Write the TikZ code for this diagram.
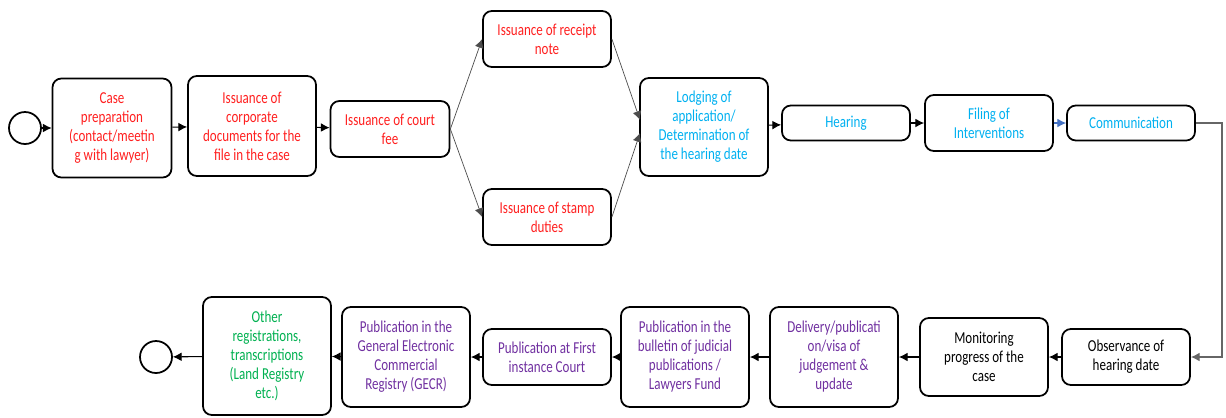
\documentclass[tikz,border=0pt]{standalone}
\usepackage{fontspec}
\setmainfont{Carlito}[FakeStretch=0.78]
\usetikzlibrary{arrows.meta}
\definecolor{txtred}{HTML}{FF1F1F}
\definecolor{txtblue}{HTML}{00B0F0}
\definecolor{txtpurple}{HTML}{7030A0}
\definecolor{txtgreen}{HTML}{00B050}
\definecolor{linkblue}{HTML}{4472C4}
\begin{document}
\begin{tikzpicture}[
    x=0.02cm, y=-0.02cm,
    >={Latex[length=5pt,width=5pt]},
    box/.style={draw, rectangle, rounded corners=5pt, line width=1pt, align=center, inner sep=1pt, minimum width=2.56cm, font=\fontsize{9.5}{10.8}\selectfont},
    event/.style={draw, circle, line width=1pt, minimum size=0.64cm, inner sep=0pt},
    flow/.style={->, line width=0.6pt},
    branch/.style={->, line width=0.4pt, color=black!70}
]
  \useasboundingbox (0,0) rectangle (1226,417);

  % Inicio
  \node[event] (start) at (25,128) {};

  % Fila superior
  \node[box, text=txtred, minimum width=2.38cm, minimum height=1.98cm] (prep) at (112,128) {Case\\preparation\\(contact/meetin\\g with lawyer)};
  \node[box, text=txtred, minimum height=2.0cm] (corp) at (252,126) {Issuance of\\corporate\\documents for the\\file in the case};
  \node[box, text=txtred, minimum width=2.38cm, minimum height=1.12cm] (fee) at (390,129) {Issuance of court\\fee};
  \node[box, text=txtred, minimum height=1.12cm] (receipt) at (547,39) {Issuance of receipt\\note};
  \node[box, text=txtred, minimum height=1.12cm] (stamp) at (547,217) {Issuance of stamp\\duties};
  \node[box, text=txtblue, minimum height=1.96cm] (lodge) at (704,127) {Lodging of\\application/\\Determination of\\the hearing date};
  \node[box, text=txtblue, minimum height=0.7cm] (hearing) at (846,123) {Hearing};
  \node[box, text=txtblue, minimum height=1.12cm] (filing) at (989,123) {Filing of\\Interventions};
  \node[box, text=txtblue, minimum height=0.7cm] (comm) at (1131,123) {Communication};

  % Fila inferior
  \node[box, minimum height=1.12cm] (observe) at (1126,357) {Observance of\\hearing date};
  \node[box, minimum height=1.56cm] (monitor) at (984,357) {Monitoring\\progress of the\\case};
  \node[box, text=txtpurple, minimum height=2.0cm] (deliver) at (834,357) {Delivery/publicati\\on/visa of\\judgement \&\\update};
  \node[box, text=txtpurple, minimum height=2.0cm] (bulletin) at (685,357) {Publication in the\\bulletin of judicial\\publications /\\Lawyers Fund};
  \node[box, text=txtpurple, minimum height=1.12cm] (court) at (547,357) {Publication at First\\instance Court};
  \node[box, text=txtpurple, minimum height=2.0cm] (gecr) at (406,357) {Publication in the\\General Electronic\\Commercial\\Registry (GECR)};
  \node[box, text=txtgreen, minimum height=2.36cm] (other) at (267,356) {Other\\registrations,\\transcriptions\\(Land Registry\\etc.)};

  % Fin
  \node[event] (end) at (156,357) {};

  % Puntos auxiliares
  \coordinate (in1) at (640,120);
  \coordinate (in2) at (640,133);
  \coordinate (turn) at (1222,357);

  % Conexiones
  \draw[flow] (start) -- (prep);
  \draw[flow] (prep) -- (corp);
  \draw[flow] (corp) -- (fee);
  \draw[branch] (fee.east) -- (receipt.west);
  \draw[branch] (fee.east) -- (stamp.west);
  \draw[branch] (receipt.east) -- (in1);
  \draw[branch] (stamp.east) -- (in2);
  \draw[flow] (lodge) -- (hearing);
  \draw[flow] (hearing) -- (filing);
  \draw[flow, color=linkblue] (filing) -- (comm);
  \draw[flow, color=black!60] (comm.east) -| (turn) -- (observe.east);
  \draw[flow] (observe) -- (monitor);
  \draw[flow] (monitor) -- (deliver);
  \draw[flow] (deliver) -- (bulletin);
  \draw[flow] (bulletin) -- (court);
  \draw[flow] (court) -- (gecr);
  \draw[flow] (gecr) -- (other);
  \draw[flow] (other) -- (end);

\end{tikzpicture}
\end{document}
